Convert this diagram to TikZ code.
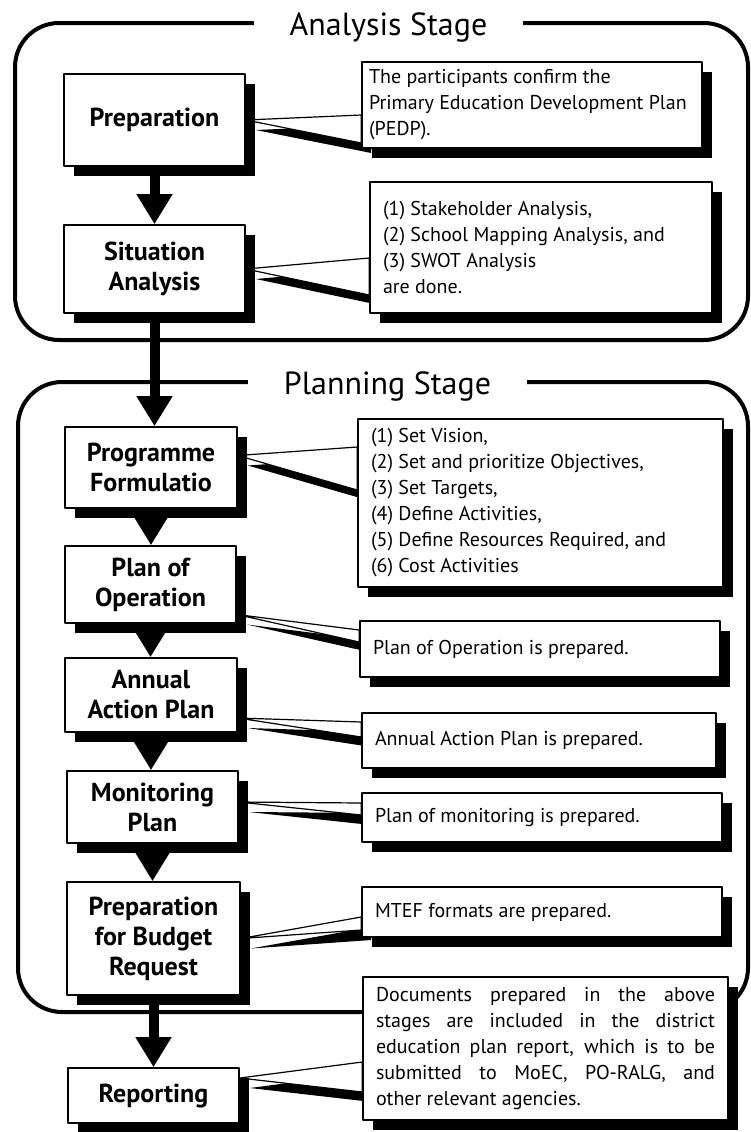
\documentclass[tikz,border=0pt]{standalone}
\usepackage{fontspec}
\setmainfont{PT Sans}
\usetikzlibrary{arrows.meta,shadows}
\pgfdeclarelayer{background}
\pgfsetlayers{background,main}
\tikzset{
  stage/.style={line width=2pt, rounded corners=22pt},
  stagetitle/.style={fill=white, inner xsep=18pt, inner ysep=1pt, font=\fontsize{16}{18}\selectfont},
  shadowed/.style={drop shadow={shadow xshift=5pt, shadow yshift=-5pt, fill=black, opacity=1}},
  stepbox/.style={draw, fill=white, line width=.8pt, shadowed, align=center, inner sep=0pt, font=\bfseries\fontsize{13}{15}\selectfont},
  notebox/.style={draw, fill=white, line width=.8pt, shadowed, align=justify, inner xsep=6.5pt, inner ysep=0pt, font=\fontsize{10}{13}\selectfont},
  flow/.style={line width=5pt, -{Triangle[width=17pt, length=15pt]}}
}
\begin{document}
\begin{tikzpicture}[x=.5pt, y=-.5pt, line join=round]
	\useasboundingbox (0,0) rectangle (751,1132);
	\draw[stage] (15,23) rectangle (748,340);
	\draw[stage] (18,382) rectangle (748,1012);
	\node[stagetitle] (atitle) at (388.5,27) {Analysis Stage};
	\node[stagetitle] (ptitle) at (387.5,386) {Planning Stage};
	\node[stepbox, minimum width=90.5pt, minimum height=46pt] (prep) at (154.5,120) {Preparation};
	\node[stepbox, minimum width=90.5pt, minimum height=44pt] (sit) at (154.5,269) {Situation\\Analysis};
	\node[stepbox, minimum width=86pt, minimum height=40.5pt] (prog) at (151,467.5) {Programme\\Formulatio};
	\node[stepbox, minimum width=85.5pt, minimum height=38.5pt] (poo) at (150.5,584.5) {Plan of\\Operation};
	\node[stepbox, minimum width=86pt, minimum height=37pt] (aap) at (151,695) {Annual\\Action Plan};
	\node[stepbox, minimum width=85.5pt, minimum height=36pt] (mon) at (152.5,807) {Monitoring\\Plan};
	\node[stepbox, minimum width=86.5pt, minimum height=56.5pt] (pbr) at (153.5,938.5) {Preparation\\for Budget\\Request};
	\node[stepbox, minimum width=85.5pt, minimum height=27.5pt] (rep) at (153.5,1095.5) {Reporting};
	\node[notebox, minimum width=170pt, minimum height=43pt, text width=163pt, inner xsep=3.5pt] (c1) at (532,105)
		{The participants confirm the\\Primary Education Development Plan\\(PEDP).};
	\node[notebox, minimum width=171pt, minimum height=65.5pt, text width=158pt] (c2) at (541,247.5)
		{(1) Stakeholder Analysis,\\(2) School Mapping Analysis, and\\(3) SWOT Analysis\\are done.};
	\node[notebox, minimum width=182.5pt, minimum height=84pt, text width=169.5pt] (c3) at (540.5,503)
		{(1) Set Vision,\\(2) Set and prioritize Objectives,\\(3) Set Targets,\\(4) Define Activities,\\(5) Define Resources Required, and\\(6) Cost Activities};
	\node[notebox, minimum width=180pt, minimum height=28pt, text width=167pt] (c4) at (540,649) {Plan of Operation is prepared.};
	\node[notebox, minimum width=177pt, minimum height=27.5pt, text width=164pt] (c5) at (539,740.5) {Annual Action Plan is prepared.};
	\node[notebox, minimum width=180pt, minimum height=24.5pt, text width=167pt] (c6) at (542,817.5) {Plan of monitoring is prepared.};
	\node[notebox, minimum width=180pt, minimum height=25pt, text width=167pt] (c7) at (542,912) {MTEF formats are prepared.};
	\node[notebox, minimum width=182.5pt, minimum height=71.5pt, text width=169.5pt] (c8) at (545.5,1048.5)
		{\makebox[169.5pt][s]{Documents prepared in the above}\\\makebox[169.5pt][s]{stages are included in the district}\\\makebox[169.5pt][s]{education plan report, which is to be}\\\makebox[169.5pt][s]{submitted to MoEC, PO-RALG, and}\\other relevant agencies.};
	\foreach \a/\b in {prep/sit, sit/prog, prog/poo, poo/aap, aap/mon, mon/pbr, pbr/rep}
		\draw[flow] (\a.south) -- (\a.south |- \b.north);
	\begin{pgfonlayer}{background}
	\foreach \s/\d/\t/\p/\q in {prep/0pt/c1/-5pt/-19pt, sit/0pt/c2/-5.25pt/-23.75pt, prog/6pt/c3/28pt/6.5pt, poo/-15pt/c4/9.5pt/3.5pt,
		aap/-11.5pt/c5/9.25pt/1.75pt, mon/2.5pt/c6/7.25pt/1.25pt, pbr/0pt/c7/-2.5pt/-9pt, rep/8.75pt/c8/-6.75pt/-21.75pt}{
		\fill ([shift={(5pt,-5pt)},yshift=\d]\s.east) -- ([shift={(5pt,-5pt)},yshift=\p]\t.west) -- ([shift={(5pt,-5pt)},yshift=\q]\t.west) -- cycle;
		\filldraw[fill=white, line width=.6pt] ([yshift=\d]\s.east) -- ([yshift=\p]\t.west) -- ([yshift=\q]\t.west) -- cycle;
	}
	\end{pgfonlayer}
\end{tikzpicture}
\end{document}
